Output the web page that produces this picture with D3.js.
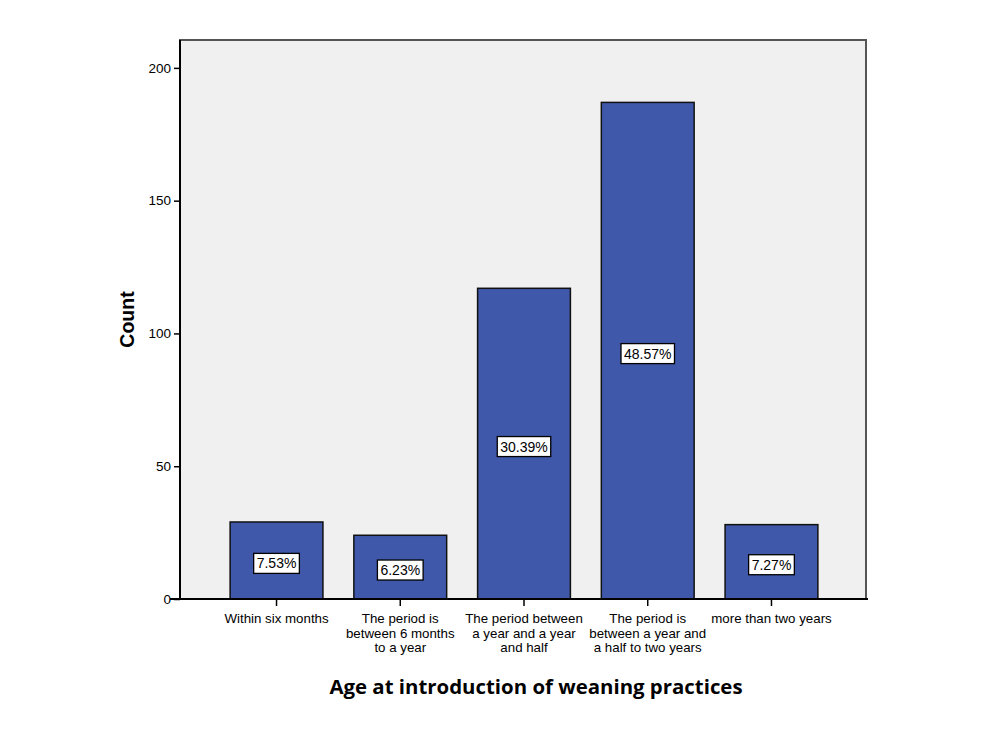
<!DOCTYPE html>
<html>
<head>
<meta charset="utf-8">
<script src="https://cdn.jsdelivr.net/npm/d3@7"></script>
<style>
  body { margin: 0; background: #fff; }
  svg { display: block; }
</style>
</head>
<body>
<svg id="chart" width="986" height="740"></svg>
<script>
// data
const categories = [
  ["Within six months"],
  ["The period is", "between 6 months", "to a year"],
  ["The period between", "a year and a year", "and half"],
  ["The period is", "between a year and", "a half to two years"],
  ["more than two years"]
];
const counts = [29, 24, 117, 187, 28];
const percentLabels = ["7.53%", "6.23%", "30.39%", "48.57%", "7.27%"];
const yTicks = [0, 50, 100, 150, 200];

const svg = d3.select("#chart");
const plotL = 180, plotR = 866, plotT = 40, plotB = 599;

const x = d3.scaleBand()
  .domain(d3.range(counts.length))
  .range([plotL + 1, plotR + 1])
  .paddingInner(0.25)
  .paddingOuter(0.397);

const y = d3.scaleLinear()
  .domain([0, 210.5])
  .range([plotB, plotT]);

// plot background + frame
svg.append("rect")
  .attr("x", plotL).attr("y", plotT)
  .attr("width", plotR - plotL).attr("height", plotB - plotT)
  .style("fill", "#f0f0f0")
  .style("stroke", "#555")
  .style("stroke-width", 2);

// bars
svg.selectAll(".bar")
  .data(counts)
  .enter()
  .append("rect")
  .attr("class", "bar")
  .attr("x", (d, i) => x(i))
  .attr("y", d => y(d))
  .attr("width", x.bandwidth())
  .attr("height", d => y(0) - y(d))
  .style("fill", "#3f58a9")
  .style("stroke", "#111")
  .style("stroke-width", 1.5);

// percentage boxes in the middle of each bar
const lab = svg.selectAll(".pct")
  .data(counts)
  .enter()
  .append("g")
  .attr("class", "pct")
  .attr("transform", (d, i) => `translate(${x(i) + x.bandwidth() / 2},${(y(d) + y(0)) / 2 + 3})`);

lab.append("text")
  .attr("text-anchor", "middle")
  .attr("dy", "0.35em")
  .style("font-family", "Liberation Sans, Arial, sans-serif")
  .style("font-size", "14px")
  .style("fill", "#000")
  .text((d, i) => percentLabels[i]);

lab.each(function () {
  const g = d3.select(this);
  const bb = g.select("text").node().getBBox();
  g.insert("rect", "text")
    .attr("x", bb.x - 3).attr("y", bb.y - 2)
    .attr("width", bb.width + 6).attr("height", bb.height + 4)
    .style("fill", "#fff")
    .style("stroke", "#000")
    .style("stroke-width", 1.3);
});

// y axis
const yAxis = svg.append("g")
  .attr("transform", `translate(${plotL},0)`)
  .call(d3.axisLeft(y).tickValues(yTicks).tickSize(6).tickPadding(3));
yAxis.select(".domain").remove();
yAxis.selectAll("line").style("stroke", "#000").style("stroke-width", 1.5);
yAxis.selectAll("text")
  .style("font-family", "Liberation Sans, Arial, sans-serif")
  .style("font-size", "13.5px")
  .style("fill", "#000");
svg.append("line")
  .attr("x1", plotL).attr("x2", plotL)
  .attr("y1", plotT).attr("y2", plotB + 1)
  .style("stroke", "#000").style("stroke-width", 2);

// x axis
const xAxis = svg.append("g")
  .attr("transform", `translate(0,${plotB})`)
  .call(d3.axisBottom(x).tickSize(7).tickFormat(""));
xAxis.select(".domain").remove();
xAxis.selectAll("line").style("stroke", "#000").style("stroke-width", 1.5);
svg.append("line")
  .attr("x1", plotL - 10).attr("x2", plotR + 2)
  .attr("y1", plotB).attr("y2", plotB)
  .style("stroke", "#000").style("stroke-width", 2);

xAxis.selectAll(".tick")
  .append("text")
  .attr("text-anchor", "middle")
  .style("font-family", "Liberation Sans, Arial, sans-serif")
  .style("font-size", "13.3px")
  .style("fill", "#000")
  .each(function (d) {
    const t = d3.select(this);
    categories[d].forEach((line, k) => {
      t.append("tspan").attr("x", 0).attr("y", 24 + k * 14.5).text(line);
    });
  });

// axis titles
svg.append("text")
  .attr("transform", `translate(134,${(plotT + plotB) / 2}) rotate(-90)`)
  .attr("text-anchor", "middle")
  .style("font-family", "Liberation Sans, Arial, sans-serif")
  .style("font-weight", "bold")
  .style("font-size", "19.5px")
  .text("Count");

svg.append("text")
  .attr("x", 536).attr("y", 694)
  .attr("text-anchor", "middle")
  .style("font-family", "Open Sans, sans-serif")
  .style("font-weight", "bold")
  .style("font-size", "20.4px")
  .text("Age at introduction of weaning practices");
</script>
</body>
</html>
